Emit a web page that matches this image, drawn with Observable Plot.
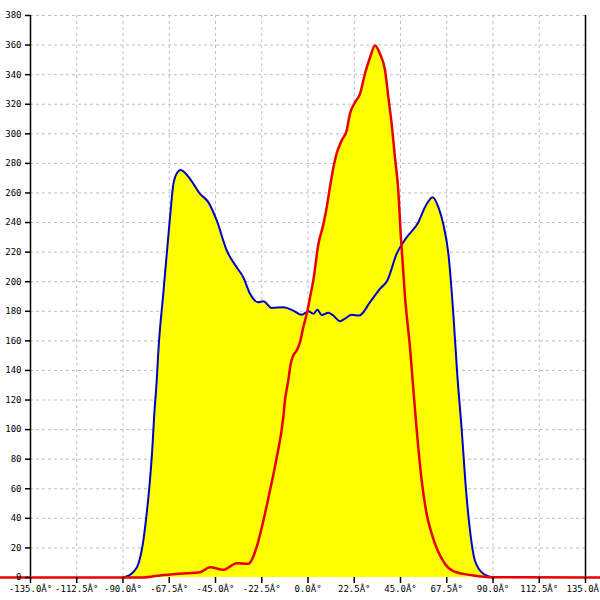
<!DOCTYPE html>
<html>
<head>
<meta charset="utf-8">
<script src="https://cdn.jsdelivr.net/npm/d3@7"></script>
<script src="https://cdn.jsdelivr.net/npm/@observablehq/plot@0.6"></script>
<style>
  html, body { margin: 0; padding: 0; background: #fff; }
  #chart svg { display: block; }
</style>
</head>
<body>
<div id="chart"></div>
<script>
// Blue series (angle in degrees, value)
const blueAngle = [-90, -87, -85, -82.5, -80.1, -78.5, -76.9, -75.7, -74.8, -73.6, -72.8, -70.4, -67.1, -65.5, -63.5, -62, -61, -57.4, -52.5, -48.5, -44.4, -39.5, -34.7, -31.5, -28.2, -24.2, -21.7, -17.7, -12.0, -7.2, -3.1, 0.2, 2.6, 4.6, 6.7, 9.9, 12, 15.6, 18, 21.3, 25, 30.2, 35.0, 38.6, 43.1, 48.0, 53.7, 56.9, 60.7, 63.4, 65.8, 68.3, 70.7, 72.6, 74.8, 76.9, 78.8, 81.2, 85.3, 90];
const blueValue = [0, 1.5, 3.6, 9.3, 25, 43, 65.6, 88, 110, 133, 153, 192, 244, 266, 274, 275.5, 275, 269.6, 259.4, 253.8, 241.4, 221, 209.8, 203, 191.8, 186.1, 186.8, 182.3, 182.8, 180.5, 177.6, 180, 178.3, 181, 177.4, 179, 177.5, 173.3, 175, 177.6, 177.2, 186.2, 195.2, 200.8, 218.8, 230, 240.2, 250.4, 257.1, 250.4, 239.1, 218.8, 178.3, 137.7, 99.4, 58.8, 31.8, 11.5, 2.5, 0];

// Red series (angle in degrees, value)
const redAngle = [-150, -80, -72, -59, -52.5, -47.7, -41.2, -34.7, -29.1, -25, -21.7, -18.5, -15.2, -12, -11.2, -9.6, -8.4, -7.2, -5.5, -3.9, -2.3, -0.6, 1.0, 2.6, 5.0, 7.5, 9.1, 10.7, 11.5, 13.9, 16.4, 18.8, 20.4, 22.9, 25.3, 27.7, 30.2, 32.6, 35.0, 37.5, 39.1, 40.7, 42.3, 43.9, 45.2, 47.2, 49.6, 50.9, 52.9, 55.3, 57.7, 60.2, 66.6, 70.7, 80.4, 90, 150];
const redValue = [0, 0, 1.4, 2.9, 3.6, 7, 5.2, 9.7, 9.3, 20.5, 38.5, 58.8, 81.3, 108.4, 119.7, 133.2, 144.5, 150, 153.5, 159, 169.2, 178.3, 189.5, 201, 225, 239, 250.4, 264, 270.7, 286.5, 295.5, 302.2, 313.5, 321.4, 327, 340.6, 351.8, 359.7, 354.1, 342.8, 324.7, 306.7, 284.1, 262, 230, 189.5, 155.7, 133.2, 99.4, 65.6, 43.1, 29.5, 9.3, 4.3, 1.4, 0.2, 0];

// Tick values
const xTicks = [-135, -112.5, -90, -67.5, -45, -22.5, 0, 22.5, 45, 67.5, 90, 112.5, 135];
const xGrid = [-112.5, -90, -67.5, -45, -22.5, 0, 22.5, 45, 67.5, 90, 112.5];
const yTicks = [0, 20, 40, 60, 80, 100, 120, 140, 160, 180, 200, 220, 240, 260, 280, 300, 320, 340, 360, 380];
const yGrid = yTicks.filter(d => d > 0);

const blue = blueAngle.map((a, i) => ({a, v: blueValue[i]}));
const red = redAngle.map((a, i) => ({a, v: redValue[i]}));

const chart = Plot.plot({
  width: 600,
  height: 600,
  marginLeft: 30,
  marginRight: 15,
  marginTop: 15,
  marginBottom: 23,
  style: {fontFamily: "'DejaVu Sans Mono', monospace", fontSize: "9px", color: "#000", background: "#fff"},
  x: {domain: [-135, 135]},
  y: {domain: [0, 380]},
  marks: [
    Plot.gridX(xGrid, {stroke: "#c0c0c0", strokeOpacity: 1, strokeDasharray: "3,3"}),
    Plot.gridY(yGrid, {stroke: "#c0c0c0", strokeOpacity: 1, strokeDasharray: "3,3"}),
    Plot.areaY(blue, {x: "a", y: "v", fill: "#ffff00", curve: "monotone-x"}),
    Plot.areaY(red, {x: "a", y: "v", fill: "#ffff00", curve: "monotone-x"}),
    Plot.ruleX([-135, 135], {stroke: "#000", strokeWidth: 1.5}),
    Plot.lineY(blue, {x: "a", y: "v", stroke: "#0000c8", strokeWidth: 2, curve: "monotone-x"}),
    Plot.lineY(red, {x: "a", y: "v", stroke: "#e60000", strokeWidth: 2.5, curve: "monotone-x"}),
    Plot.axisX(xTicks, {tickSize: 6, tickPadding: 2, tickFormat: d => d.toFixed(1) + "Â°", label: null, stroke: "#000", strokeWidth: 1.5}),
    Plot.axisY(yTicks, {tickSize: 5, tickPadding: 4, tickFormat: d => String(d), label: null, stroke: "#000", strokeWidth: 1.5})
  ]
});
document.getElementById("chart").appendChild(chart);
</script>
</body>
</html>
